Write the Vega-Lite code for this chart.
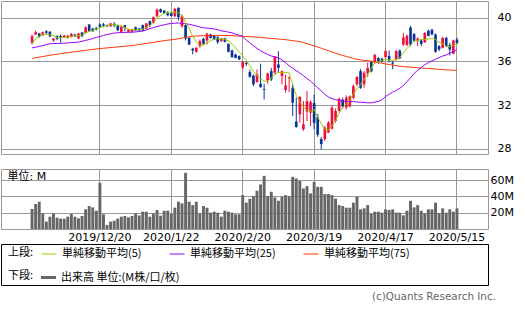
{
  "$schema": "https://vega.github.io/schema/vega-lite/v6.json",
  "padding": 0,
  "background": "white",
  "bounds": "flush",
  "spacing": 15,
  "config": {
    "view": {"stroke": "#999999", "strokeWidth": 1},
    "font": "DejaVu Sans",
    "axis": {"gridColor": "#999999", "gridOpacity": 1, "gridWidth": 1, "domain": false, "ticks": false, "labelColor": "#000000", "labelFont": "DejaVu Sans", "labelFontSize": 11},
    "legend": {"orient": "none", "direction": "horizontal", "titleOrient": "left", "padding": 0, "titleFontWeight": "normal", "titleFontSize": 11, "titleFont": "Noto Sans CJK JP", "titleColor": "#000000", "labelFont": "Noto Sans CJK JP", "labelFontSize": 11, "labelColor": "#000000", "symbolSize": 225, "labelOffset": 5, "titlePadding": 7, "columnPadding": 25}
  },
  "title": {"text": "(c)Quants Research Inc.", "orient": "bottom", "anchor": "end", "fontSize": 10.4, "fontWeight": "normal", "color": "#666666", "font": "DejaVu Sans", "offset": 6, "dx": -18},
  "data": {"values": [
    {"d":"2019/11/22","o":37.71,"h":38.47,"l":37.55,"c":38.31,"v":24.5,"m5":37.6,"m25":37.25,"m75":36.28},
    {"d":"2019/11/25","o":38.47,"h":38.83,"l":38.4,"c":38.68,"v":30.6,"m5":38.1,"m25":37.3,"m75":36.34},
    {"d":"2019/11/26","o":38.56,"h":38.62,"l":38.16,"c":38.25,"v":33.4,"m5":38.3,"m25":37.38,"m75":36.4},
    {"d":"2019/11/27","o":38.4,"h":38.74,"l":38.35,"c":38.68,"v":19.2,"m5":38.45,"m25":37.45,"m75":36.45},
    {"d":"2019/11/29","o":38.77,"h":38.86,"l":38.47,"c":38.62,"v":9.0,"m5":38.5,"m25":37.55,"m75":36.51},
    {"d":"2019/12/2","o":38.71,"h":38.77,"l":38.22,"c":38.31,"v":15.1,"m5":38.45,"m25":37.62,"m75":36.57},
    {"d":"2019/12/3","o":37.92,"h":38.16,"l":37.8,"c":38.07,"v":19.2,"m5":38.35,"m25":37.64,"m75":36.62},
    {"d":"2019/12/4","o":38.31,"h":38.4,"l":37.95,"c":38.07,"v":13.9,"m5":38.2,"m25":37.65,"m75":36.66},
    {"d":"2019/12/5","o":38.34,"h":38.47,"l":37.71,"c":38.22,"v":12.7,"m5":38.15,"m25":37.66,"m75":36.71},
    {"d":"2019/12/6","o":38.22,"h":38.43,"l":38.16,"c":38.37,"v":12.7,"m5":38.2,"m25":37.68,"m75":36.76},
    {"d":"2019/12/9","o":38.16,"h":38.43,"l":38.1,"c":38.37,"v":15.1,"m5":38.25,"m25":37.7,"m75":36.8},
    {"d":"2019/12/10","o":38.25,"h":38.59,"l":38.19,"c":38.53,"v":18.4,"m5":38.3,"m25":37.72,"m75":36.85},
    {"d":"2019/12/11","o":38.47,"h":38.53,"l":38.25,"c":38.31,"v":15.1,"m5":38.35,"m25":37.74,"m75":36.89},
    {"d":"2019/12/12","o":38.1,"h":38.62,"l":38.04,"c":38.56,"v":13.1,"m5":38.35,"m25":37.77,"m75":36.93},
    {"d":"2019/12/13","o":38.65,"h":38.71,"l":38.22,"c":38.31,"v":15.9,"m5":38.4,"m25":37.85,"m75":36.98},
    {"d":"2019/12/16","o":38.62,"h":39.22,"l":38.56,"c":39.13,"v":24.1,"m5":38.6,"m25":37.93,"m75":37.02},
    {"d":"2019/12/17","o":39.38,"h":39.41,"l":38.71,"c":38.77,"v":28.1,"m5":38.75,"m25":38.0,"m75":37.06},
    {"d":"2019/12/18","o":39.01,"h":39.07,"l":38.71,"c":38.77,"v":26.5,"m5":38.85,"m25":38.1,"m75":37.1},
    {"d":"2019/12/19","o":39.07,"h":39.16,"l":38.83,"c":38.98,"v":22.4,"m5":38.95,"m25":38.2,"m75":37.14},
    {"d":"2019/12/20","o":39.38,"h":39.47,"l":39.1,"c":39.16,"v":56.6,"m5":39.1,"m25":38.28,"m75":37.18},
    {"d":"2019/12/23","o":39.41,"h":39.53,"l":39.13,"c":39.29,"v":18.0,"m5":39.2,"m25":38.38,"m75":37.21},
    {"d":"2019/12/24","o":39.32,"h":39.38,"l":39.16,"c":39.22,"v":5.0,"m5":39.3,"m25":38.47,"m75":37.24},
    {"d":"2019/12/26","o":39.22,"h":39.53,"l":39.16,"c":39.47,"v":9.0,"m5":39.35,"m25":38.53,"m75":37.27},
    {"d":"2019/12/27","o":39.44,"h":39.59,"l":39.13,"c":39.32,"v":10.2,"m5":39.35,"m25":38.6,"m75":37.3},
    {"d":"2019/12/30","o":39.29,"h":39.38,"l":38.77,"c":38.86,"v":12.7,"m5":39.3,"m25":38.63,"m75":37.33},
    {"d":"2019/12/31","o":38.71,"h":39.25,"l":38.65,"c":39.19,"v":15.1,"m5":39.25,"m25":38.65,"m75":37.36},
    {"d":"2020/1/2","o":39.32,"h":39.35,"l":38.77,"c":39.07,"v":15.9,"m5":39.1,"m25":38.66,"m75":37.39},
    {"d":"2020/1/3","o":38.71,"h":38.98,"l":38.65,"c":38.92,"v":14.3,"m5":38.95,"m25":38.67,"m75":37.43},
    {"d":"2020/1/6","o":38.71,"h":39.0,"l":38.65,"c":38.92,"v":15.9,"m5":38.9,"m25":38.68,"m75":37.46},
    {"d":"2020/1/7","o":39.13,"h":39.19,"l":38.77,"c":38.83,"v":19.2,"m5":38.9,"m25":38.7,"m75":37.5},
    {"d":"2020/1/8","o":39.01,"h":39.07,"l":38.77,"c":38.83,"v":16.7,"m5":38.9,"m25":38.74,"m75":37.55},
    {"d":"2020/1/9","o":39.32,"h":39.38,"l":38.77,"c":38.83,"v":21.2,"m5":38.95,"m25":38.78,"m75":37.6},
    {"d":"2020/1/10","o":39.01,"h":39.53,"l":38.95,"c":39.47,"v":21.2,"m5":39.1,"m25":38.88,"m75":37.65},
    {"d":"2020/1/13","o":39.68,"h":39.74,"l":39.13,"c":39.32,"v":15.1,"m5":39.3,"m25":39.0,"m75":37.7},
    {"d":"2020/1/14","o":39.53,"h":40.11,"l":39.47,"c":40.05,"v":19.2,"m5":39.6,"m25":39.1,"m75":37.75},
    {"d":"2020/1/15","o":40.14,"h":40.84,"l":40.05,"c":40.74,"v":23.3,"m5":39.95,"m25":39.2,"m75":37.8},
    {"d":"2020/1/16","o":40.77,"h":40.84,"l":40.44,"c":40.53,"v":16.3,"m5":40.2,"m25":39.28,"m75":37.85},
    {"d":"2020/1/17","o":40.65,"h":40.71,"l":40.38,"c":40.44,"v":22.4,"m5":40.4,"m25":39.35,"m75":37.9},
    {"d":"2020/1/21","o":40.41,"h":40.59,"l":40.14,"c":40.23,"v":22.4,"m5":40.5,"m25":39.43,"m75":37.95},
    {"d":"2020/1/22","o":40.41,"h":40.47,"l":40.11,"c":40.17,"v":18.4,"m5":40.5,"m25":39.47,"m75":37.98},
    {"d":"2020/1/23","o":40.14,"h":40.9,"l":40.05,"c":40.81,"v":26.1,"m5":40.5,"m25":39.5,"m75":38.02},
    {"d":"2020/1/24","o":40.9,"h":40.96,"l":39.75,"c":40.05,"v":33.4,"m5":40.45,"m25":39.52,"m75":38.08},
    {"d":"2020/1/27","o":39.22,"h":40.29,"l":39.07,"c":40.14,"v":31.4,"m5":40.2,"m25":39.48,"m75":38.14},
    {"d":"2020/1/28","o":39.32,"h":39.38,"l":37.92,"c":38.1,"v":68.8,"m5":39.6,"m25":39.45,"m75":38.2},
    {"d":"2020/1/29","o":38.16,"h":38.22,"l":37.49,"c":37.55,"v":33.4,"m5":39.0,"m25":39.4,"m75":38.25},
    {"d":"2020/1/30","o":37.16,"h":37.25,"l":36.64,"c":37.01,"v":29.3,"m5":38.3,"m25":39.33,"m75":38.3},
    {"d":"2020/1/31","o":36.89,"h":37.31,"l":36.79,"c":37.25,"v":33.4,"m5":37.8,"m25":39.25,"m75":38.33},
    {"d":"2020/2/3","o":37.4,"h":38.01,"l":37.25,"c":37.86,"v":19.2,"m5":37.45,"m25":39.15,"m75":38.35},
    {"d":"2020/2/4","o":38.07,"h":38.16,"l":37.55,"c":37.61,"v":28.1,"m5":37.5,"m25":39.08,"m75":38.36},
    {"d":"2020/2/5","o":37.92,"h":38.62,"l":37.55,"c":38.53,"v":26.1,"m5":37.7,"m25":39.05,"m75":38.37},
    {"d":"2020/2/6","o":38.47,"h":38.53,"l":38.1,"c":38.16,"v":20.0,"m5":37.9,"m25":39.02,"m75":38.38},
    {"d":"2020/2/7","o":38.37,"h":38.43,"l":37.95,"c":38.01,"v":21.2,"m5":38.05,"m25":38.98,"m75":38.38},
    {"d":"2020/2/10","o":38.22,"h":38.31,"l":37.61,"c":37.77,"v":20.0,"m5":38.1,"m25":38.9,"m75":38.38},
    {"d":"2020/2/11","o":37.86,"h":38.16,"l":37.8,"c":38.1,"v":15.1,"m5":38.05,"m25":38.8,"m75":38.38},
    {"d":"2020/2/12","o":38.1,"h":38.16,"l":37.74,"c":37.8,"v":22.4,"m5":38.0,"m25":38.75,"m75":38.38},
    {"d":"2020/2/13","o":37.61,"h":37.65,"l":36.83,"c":36.89,"v":21.2,"m5":37.9,"m25":38.68,"m75":38.37},
    {"d":"2020/2/14","o":37.01,"h":37.07,"l":36.34,"c":36.4,"v":20.0,"m5":37.6,"m25":38.62,"m75":38.36},
    {"d":"2020/2/18","o":36.64,"h":36.7,"l":36.28,"c":36.34,"v":18.0,"m5":37.25,"m25":38.5,"m75":38.34},
    {"d":"2020/2/19","o":36.49,"h":36.55,"l":36.13,"c":36.19,"v":18.0,"m5":36.9,"m25":38.4,"m75":38.32},
    {"d":"2020/2/20","o":35.43,"h":36.03,"l":35.27,"c":35.97,"v":41.5,"m5":36.5,"m25":38.3,"m75":38.3},
    {"d":"2020/2/21","o":35.85,"h":36.03,"l":35.58,"c":35.76,"v":32.2,"m5":36.1,"m25":37.95,"m75":38.28},
    {"d":"2020/2/24","o":35.03,"h":35.27,"l":34.51,"c":34.6,"v":37.1,"m5":35.6,"m25":37.7,"m75":38.26},
    {"d":"2020/2/25","o":34.72,"h":34.81,"l":33.75,"c":33.9,"v":40.3,"m5":35.1,"m25":37.45,"m75":38.24},
    {"d":"2020/2/26","o":34.12,"h":35.27,"l":34.05,"c":34.81,"v":46.8,"m5":34.7,"m25":37.2,"m75":38.22},
    {"d":"2020/2/27","o":33.95,"h":35.8,"l":33.6,"c":33.65,"v":54.5,"m5":34.4,"m25":36.98,"m75":38.2},
    {"d":"2020/2/28","o":33.47,"h":33.96,"l":32.53,"c":33.4,"v":65.1,"m5":34.2,"m25":36.8,"m75":38.17},
    {"d":"2020/3/2","o":34.27,"h":34.97,"l":33.96,"c":34.91,"v":40.3,"m5":34.2,"m25":36.64,"m75":38.14},
    {"d":"2020/3/3","o":35.12,"h":35.42,"l":34.21,"c":34.36,"v":45.6,"m5":34.5,"m25":36.5,"m75":38.11},
    {"d":"2020/3/4","o":34.97,"h":36.49,"l":34.81,"c":36.43,"v":38.7,"m5":34.8,"m25":36.42,"m75":38.08},
    {"d":"2020/3/5","o":35.73,"h":36.94,"l":34.97,"c":35.42,"v":34.6,"m5":35.0,"m25":36.33,"m75":38.05},
    {"d":"2020/3/6","o":34.66,"h":35.18,"l":33.9,"c":35.12,"v":39.5,"m5":35.0,"m25":36.15,"m75":38.03},
    {"d":"2020/3/9","o":33.39,"h":34.81,"l":33.14,"c":33.81,"v":41.5,"m5":35.0,"m25":35.9,"m75":37.99},
    {"d":"2020/3/10","o":34.48,"h":34.6,"l":33.2,"c":34.57,"v":40.3,"m5":34.95,"m25":35.6,"m75":37.95},
    {"d":"2020/3/11","o":33.6,"h":33.9,"l":31.02,"c":32.23,"v":63.9,"m5":33.9,"m25":35.4,"m75":37.9},
    {"d":"2020/3/12","o":30.5,"h":32.69,"l":29.95,"c":30.01,"v":61.9,"m5":32.9,"m25":35.15,"m75":37.86},
    {"d":"2020/3/13","o":31.17,"h":32.84,"l":30.41,"c":32.75,"v":59.0,"m5":32.3,"m25":34.95,"m75":37.82},
    {"d":"2020/3/16","o":29.8,"h":32.38,"l":29.65,"c":30.26,"v":49.7,"m5":31.85,"m25":34.7,"m75":37.73},
    {"d":"2020/3/17","o":31.41,"h":33.3,"l":30.56,"c":32.38,"v":52.5,"m5":31.5,"m25":34.45,"m75":37.63},
    {"d":"2020/3/18","o":31.32,"h":32.44,"l":30.1,"c":32.29,"v":43.6,"m5":31.45,"m25":34.2,"m75":37.53},
    {"d":"2020/3/19","o":32.2,"h":32.99,"l":29.8,"c":30.38,"v":57.8,"m5":31.6,"m25":33.9,"m75":37.43},
    {"d":"2020/3/20","o":30.9,"h":31.2,"l":29.1,"c":29.3,"v":51.7,"m5":30.9,"m25":33.6,"m75":37.33},
    {"d":"2020/3/23","o":28.9,"h":29.1,"l":27.95,"c":28.45,"v":51.7,"m5":30.3,"m25":33.3,"m75":37.21},
    {"d":"2020/3/24","o":28.89,"h":30.1,"l":28.74,"c":29.95,"v":42.8,"m5":29.8,"m25":33.0,"m75":37.1},
    {"d":"2020/3/25","o":29.5,"h":30.56,"l":29.45,"c":30.41,"v":42.8,"m5":29.7,"m25":32.75,"m75":36.98},
    {"d":"2020/3/26","o":29.86,"h":31.93,"l":29.8,"c":31.78,"v":41.5,"m5":30.1,"m25":32.6,"m75":36.87},
    {"d":"2020/3/27","o":30.56,"h":31.71,"l":30.41,"c":31.47,"v":37.1,"m5":30.6,"m25":32.5,"m75":36.75},
    {"d":"2020/3/30","o":31.5,"h":32.69,"l":31.41,"c":32.6,"v":29.3,"m5":31.3,"m25":32.45,"m75":36.65},
    {"d":"2020/3/31","o":32.5,"h":32.7,"l":31.7,"c":31.9,"v":28.1,"m5":31.8,"m25":32.4,"m75":36.55},
    {"d":"2020/4/1","o":31.8,"h":32.9,"l":31.6,"c":32.7,"v":26.1,"m5":32.1,"m25":32.35,"m75":36.46},
    {"d":"2020/4/2","o":31.9,"h":32.9,"l":31.8,"c":32.8,"v":26.1,"m5":32.5,"m25":32.35,"m75":36.37},
    {"d":"2020/4/3","o":32.69,"h":33.91,"l":32.54,"c":33.75,"v":32.2,"m5":33.0,"m25":32.33,"m75":36.28},
    {"d":"2020/4/6","o":33.91,"h":34.67,"l":33.75,"c":34.58,"v":39.5,"m5":33.5,"m25":32.3,"m75":36.2},
    {"d":"2020/4/7","o":35.12,"h":35.3,"l":33.5,"c":33.6,"v":24.1,"m5":33.9,"m25":32.28,"m75":36.15},
    {"d":"2020/4/8","o":33.91,"h":35.12,"l":33.6,"c":34.97,"v":25.3,"m5":34.4,"m25":32.25,"m75":36.1},
    {"d":"2020/4/9","o":34.9,"h":35.9,"l":34.6,"c":35.4,"v":29.3,"m5":34.8,"m25":32.22,"m75":36.06},
    {"d":"2020/4/13","o":35.95,"h":36.05,"l":35.0,"c":35.1,"v":18.4,"m5":35.4,"m25":32.22,"m75":36.02},
    {"d":"2020/4/14","o":35.9,"h":36.7,"l":35.8,"c":36.6,"v":21.2,"m5":35.9,"m25":32.28,"m75":35.97},
    {"d":"2020/4/15","o":36.3,"h":36.4,"l":35.8,"c":36.0,"v":21.2,"m5":36.0,"m25":32.35,"m75":35.9},
    {"d":"2020/4/16","o":36.25,"h":36.35,"l":35.9,"c":36.0,"v":20.0,"m5":36.1,"m25":32.5,"m75":35.84},
    {"d":"2020/4/17","o":36.4,"h":37.1,"l":36.3,"c":36.95,"v":24.1,"m5":36.2,"m25":32.8,"m75":35.78},
    {"d":"2020/4/20","o":36.5,"h":37.0,"l":35.9,"c":36.1,"v":23.3,"m5":36.15,"m25":33.0,"m75":35.72},
    {"d":"2020/4/21","o":35.9,"h":36.05,"l":35.3,"c":35.8,"v":24.1,"m5":36.1,"m25":33.2,"m75":35.67},
    {"d":"2020/4/22","o":36.2,"h":37.05,"l":36.1,"c":36.95,"v":20.0,"m5":36.15,"m25":33.35,"m75":35.62},
    {"d":"2020/4/23","o":37.0,"h":37.1,"l":36.2,"c":36.3,"v":20.0,"m5":36.35,"m25":33.55,"m75":35.57},
    {"d":"2020/4/24","o":37.55,"h":38.6,"l":37.4,"c":38.2,"v":16.7,"m5":36.8,"m25":33.8,"m75":35.52},
    {"d":"2020/4/27","o":37.5,"h":38.45,"l":37.4,"c":38.35,"v":22.4,"m5":37.2,"m25":34.15,"m75":35.5},
    {"d":"2020/4/28","o":39.1,"h":39.25,"l":37.4,"c":37.55,"v":34.6,"m5":37.5,"m25":34.5,"m75":35.48},
    {"d":"2020/4/29","o":38.5,"h":38.6,"l":37.8,"c":37.9,"v":26.5,"m5":37.85,"m25":34.9,"m75":35.45},
    {"d":"2020/4/30","o":37.9,"h":38.2,"l":37.4,"c":38.1,"v":29.3,"m5":37.95,"m25":35.2,"m75":35.42},
    {"d":"2020/5/1","o":37.92,"h":38.01,"l":37.4,"c":37.61,"v":22.4,"m5":38.0,"m25":35.45,"m75":35.4},
    {"d":"2020/5/4","o":37.75,"h":38.7,"l":37.7,"c":38.6,"v":19.2,"m5":38.0,"m25":35.7,"m75":35.38},
    {"d":"2020/5/5","o":38.8,"h":38.92,"l":38.3,"c":38.34,"v":24.1,"m5":38.05,"m25":35.9,"m75":35.36},
    {"d":"2020/5/6","o":38.9,"h":38.98,"l":38.4,"c":38.47,"v":24.1,"m5":38.1,"m25":36.05,"m75":35.34},
    {"d":"2020/5/7","o":38.47,"h":38.55,"l":36.8,"c":36.89,"v":32.2,"m5":38.0,"m25":36.2,"m75":35.31},
    {"d":"2020/5/8","o":37.4,"h":37.5,"l":36.95,"c":37.1,"v":19.2,"m5":37.75,"m25":36.35,"m75":35.28},
    {"d":"2020/5/11","o":37.25,"h":38.25,"l":37.2,"c":38.16,"v":25.3,"m5":37.6,"m25":36.5,"m75":35.26},
    {"d":"2020/5/12","o":38.16,"h":38.25,"l":37.3,"c":37.4,"v":20.0,"m5":37.4,"m25":36.6,"m75":35.24},
    {"d":"2020/5/13","o":37.5,"h":37.7,"l":36.55,"c":37.1,"v":24.1,"m5":37.35,"m25":36.75,"m75":35.22},
    {"d":"2020/5/14","o":36.73,"h":38.0,"l":36.65,"c":37.92,"v":21.2,"m5":37.5,"m25":36.9,"m75":35.2},
    {"d":"2020/5/15","o":38.0,"h":38.16,"l":37.55,"c":37.7,"v":25.3,"m5":37.6,"m25":37.1,"m75":35.18}
  ]},
  "resolve": {"scale": {"x": "shared"}},
  "vconcat": [
    {
      "width": 487,
      "height": 153,
      "encoding": {
        "x": {"field": "d", "type": "ordinal", "sort": null,
              "scale": {"type": "band", "paddingInner": 0, "paddingOuter": 0.2,
                        "domain": ["_a1","_a2","_a3","_a4","_a5","_a6","_a7","_a8","2019/11/22","2019/11/25","2019/11/26","2019/11/27","2019/11/29","2019/12/2","2019/12/3","2019/12/4","2019/12/5","2019/12/6","2019/12/9","2019/12/10","2019/12/11","2019/12/12","2019/12/13","2019/12/16","2019/12/17","2019/12/18","2019/12/19","2019/12/20","2019/12/23","2019/12/24","2019/12/26","2019/12/27","2019/12/30","2019/12/31","2020/1/2","2020/1/3","2020/1/6","2020/1/7","2020/1/8","2020/1/9","2020/1/10","2020/1/13","2020/1/14","2020/1/15","2020/1/16","2020/1/17","2020/1/21","2020/1/22","2020/1/23","2020/1/24","2020/1/27","2020/1/28","2020/1/29","2020/1/30","2020/1/31","2020/2/3","2020/2/4","2020/2/5","2020/2/6","2020/2/7","2020/2/10","2020/2/11","2020/2/12","2020/2/13","2020/2/14","2020/2/18","2020/2/19","2020/2/20","2020/2/21","2020/2/24","2020/2/25","2020/2/26","2020/2/27","2020/2/28","2020/3/2","2020/3/3","2020/3/4","2020/3/5","2020/3/6","2020/3/9","2020/3/10","2020/3/11","2020/3/12","2020/3/13","2020/3/16","2020/3/17","2020/3/18","2020/3/19","2020/3/20","2020/3/23","2020/3/24","2020/3/25","2020/3/26","2020/3/27","2020/3/30","2020/3/31","2020/4/1","2020/4/2","2020/4/3","2020/4/6","2020/4/7","2020/4/8","2020/4/9","2020/4/13","2020/4/14","2020/4/15","2020/4/16","2020/4/17","2020/4/20","2020/4/21","2020/4/22","2020/4/23","2020/4/24","2020/4/27","2020/4/28","2020/4/29","2020/4/30","2020/5/1","2020/5/4","2020/5/5","2020/5/6","2020/5/7","2020/5/8","2020/5/11","2020/5/12","2020/5/13","2020/5/14","2020/5/15","_b1","_b2","_b3","_b4","_b5","_b6","_b7","_b8"]},
              "axis": {"title": null, "values": ["2019/12/20","2020/1/22","2020/2/20","2020/3/19","2020/4/17","2020/5/15"], "labels": false, "grid": true, "bandPosition": 0.5}}
      },
      "layer": [
        {
          "mark": {"type": "rule", "strokeWidth": 1},
          "encoding": {
            "y": {"field": "l", "type": "quantitative",
                  "scale": {"domain": [27.54, 41.53], "zero": false, "nice": false},
                  "axis": {"title": null, "orient": "right", "values": [28,30,32,34,36,38,40], "labelPadding": 9, "grid": true}},
            "y2": {"field": "h"},
            "color": {"condition": {"test": "datum.c >= datum.o", "value": "#f0103c"}, "value": "#0a3596"}
          }
        },
        {
          "mark": {"type": "bar", "width": {"band": 0.75}},
          "encoding": {
            "y": {"field": "o", "type": "quantitative"},
            "y2": {"field": "c"},
            "color": {"condition": {"test": "datum.c >= datum.o", "value": "#f0103c"}, "value": "#0a3596"}
          }
        },
        {
          "mark": {"type": "line", "strokeWidth": 1},
          "encoding": {
            "y": {"field": "m75", "type": "quantitative"},
            "stroke": {"datum": "単純移動平均(75)", "type": "nominal",
                       "scale": {"domain": ["単純移動平均(5)","単純移動平均(25)","単純移動平均(75)"], "range": ["#99cc00","#9900ff","#ff3300"]},
                       "legend": {"title": "上段:", "legendX": 7, "legendY": 245, "symbolType": "stroke", "symbolStrokeWidth": 1}}
          }
        },
        {
          "mark": {"type": "line", "strokeWidth": 1},
          "encoding": {
            "y": {"field": "m25", "type": "quantitative"},
            "stroke": {"datum": "単純移動平均(25)", "type": "nominal"}
          }
        },
        {
          "mark": {"type": "line", "strokeWidth": 1},
          "encoding": {
            "y": {"field": "m5", "type": "quantitative"},
            "stroke": {"datum": "単純移動平均(5)", "type": "nominal"}
          }
        }
      ]
    },
    {
      "width": 487,
      "height": 60,
      "mark": {"type": "bar", "width": {"band": 0.82}},
      "encoding": {
        "x": {"field": "d", "type": "ordinal", "sort": null,
              "axis": {"title": null, "values": ["2019/12/20","2020/1/22","2020/2/20","2020/3/19","2020/4/17","2020/5/15"], "labelAngle": 0, "labelPadding": 2, "grid": true, "bandPosition": 0.5}},
        "y": {"field": "v", "type": "quantitative",
              "scale": {"domain": [0, 73.5], "nice": false},
              "axis": {"orient": "right", "values": [20,40,60], "labelExpr": "datum.value + 'M'", "labelPadding": 2, "grid": true,
                       "title": "単位: M", "titleAngle": 0, "titleX": -481, "titleY": 10, "titleAlign": "left", "titleBaseline": "alphabetic", "titleFontWeight": "normal", "titleFontSize": 11, "titleFont": "DejaVu Sans, Noto Sans CJK JP", "titleColor": "#000000"}},
        "fill": {"datum": "出来高 単位:(M株/口/枚)", "type": "nominal",
                 "scale": {"range": ["#666666"]},
                 "legend": {"title": "下段:", "legendX": 7, "legendY": 269, "symbolType": "M-1,-0.2H1V0.2H-1Z", "symbolStrokeWidth": 0}}
      }
    },
    {
      "width": 521,
      "height": 41,
      "view": {"stroke": "#000000", "strokeWidth": 1},
      "mark": {"type": "text"},
      "encoding": {"text": {"value": ""}}
    }
  ]
}
